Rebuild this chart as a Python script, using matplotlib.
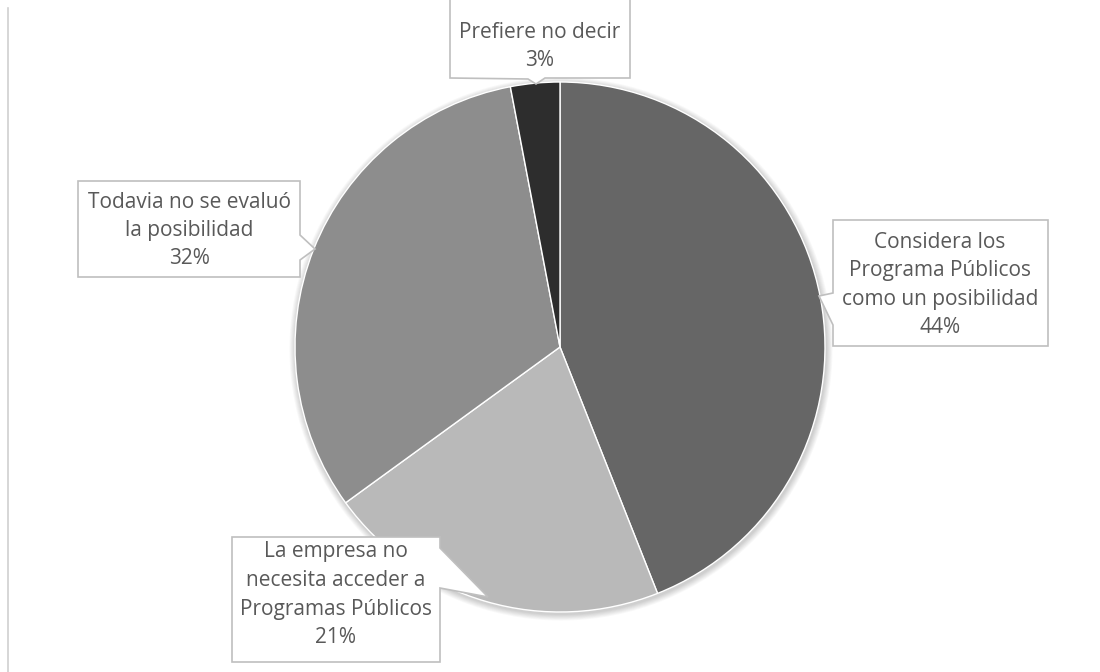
import matplotlib.pyplot as plt
from matplotlib.patches import Polygon, Circle

plt.rcParams['font.family'] = ['Open Sans', 'DejaVu Sans']

labels = ['Considera los\nPrograma Públicos\ncomo un posibilidad',
          'La empresa no\nnecesita acceder a\nProgramas Públicos',
          'Todavia no se evaluó\nla posibilidad',
          'Prefiere no decir']
values = [44, 21, 32, 3]
colors = ['#666666', '#b9b9b9', '#8d8d8d', '#2d2d2d']

W, H = 1100, 672
fig = plt.figure(figsize=(11, 6.72), dpi=100)
ax = fig.add_axes([0, 0, 1, 1])


def fy(y):
    # pixel rows are counted from the top
    return H - y


cx, cy, r = 560, fy(347), 265

# soft shadow round the pie
for k in range(8):
    ax.add_patch(Circle((cx + 1, cy - 2), r + 1 + k * 0.8, color='black',
                        alpha=0.025, lw=0, zorder=1))

ax.pie(values, colors=colors, startangle=90, counterclock=False,
       center=(cx, cy), radius=r, frame=True,
       wedgeprops=dict(edgecolor='white', linewidth=1.0, zorder=2))
ax.set_xlim(0, W)
ax.set_ylim(0, H)
ax.set_aspect('equal')
ax.axis('off')

# outline of the chart area on the left
ax.plot([8, 8], [fy(8), fy(672)], color='#d0d0d0', lw=1.2)

# callout boxes: outline points in pixel coordinates
boxes = [
    [(833, 220), (1048, 220), (1048, 346), (833, 346), (833, 325), (819, 296), (833, 293)],
    [(232, 537), (440, 537), (440, 548), (488, 597), (440, 588), (440, 662), (232, 662)],
    [(78, 181), (300, 181), (300, 235), (315, 249), (300, 260), (300, 277), (78, 277)],
    [(450, -5), (630, -5), (630, 78), (545, 78), (536, 84), (528, 79), (450, 78)],
]
text_x = [940, 336, 189, 540]
text_top = [242, 552, 202, 32]
step = 28.5

for i, pts in enumerate(boxes):
    ax.add_patch(Polygon([(x, fy(y)) for x, y in pts], closed=True,
                         facecolor='white', edgecolor='#bfbfbf', lw=1.2, zorder=3))
    lines = labels[i].split('\n') + ['%d%%' % values[i]]
    for j, line in enumerate(lines):
        ax.text(text_x[i], fy(text_top[i] + j * step), line, ha='center', va='center',
                fontsize=15, color='#595959', zorder=4)

fig.savefig('out.png', dpi=100, facecolor='white')
